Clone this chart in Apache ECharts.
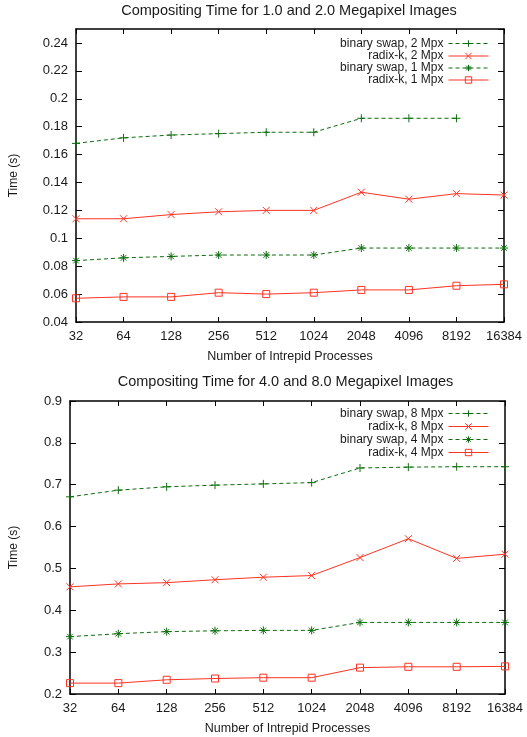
<!DOCTYPE html>
<html>
<head>
<meta charset="utf-8">
<script src="https://cdn.jsdelivr.net/npm/echarts@6/dist/echarts.min.js"></script>
<style>
html,body{margin:0;padding:0;background:#fff;}
#c{width:527px;height:737px;}
</style>
</head>
<body>
<div id="c"></div>
<script>
// ---- data ----
const processes = ['32','64','128','256','512','1024','2048','4096','8192','16384'];

const titleTop = 'Compositing Time for 1.0 and 2.0 Megapixel Images';
const titleBottom = 'Compositing Time for 4.0 and 8.0 Megapixel Images';
const xName = 'Number of Intrepid Processes';
const yName = 'Time (s)';

// top chart
const binarySwap2 = [0.168, 0.172, 0.174, 0.175, 0.176, 0.176, 0.186, 0.186, 0.186, null];
const radixK2     = [0.114, 0.114, 0.117, 0.119, 0.120, 0.120, 0.133, 0.128, 0.132, 0.131];
const binarySwap1 = [0.084, 0.086, 0.087, 0.088, 0.088, 0.088, 0.093, 0.093, 0.093, 0.093];
const radixK1     = [0.057, 0.058, 0.058, 0.061, 0.060, 0.061, 0.063, 0.063, 0.066, 0.067];

// bottom chart
const binarySwap8 = [0.671, 0.687, 0.695, 0.699, 0.702, 0.705, 0.740, 0.742, 0.743, 0.743];
const radixK8     = [0.456, 0.463, 0.466, 0.473, 0.479, 0.483, 0.526, 0.571, 0.524, 0.534];
const binarySwap4 = [0.337, 0.344, 0.349, 0.351, 0.352, 0.352, 0.371, 0.371, 0.371, 0.371];
const radixK4     = [0.226, 0.226, 0.234, 0.237, 0.239, 0.239, 0.263, 0.265, 0.265, 0.266];

const topNames = ['binary swap, 2 Mpx', 'radix-k, 2 Mpx', 'binary swap, 1 Mpx', 'radix-k, 1 Mpx'];
const bottomNames = ['binary swap, 8 Mpx', 'radix-k, 8 Mpx', 'binary swap, 4 Mpx', 'radix-k, 4 Mpx'];

// ---- styling ----
const GREEN = '#0d6d0d';
const RED = '#ff3322';
const FONT = 'Liberation Sans';
const TXT = '#1a1a1a';
const SYM = {
  plus: 'path://M0,5L10,5M5,0L5,10',
  cross: 'path://M0,0L10,10M0,10L10,0',
  star: 'path://M0,5L10,5M5,0L5,10M1.5,1.5L8.5,8.5M1.5,8.5L8.5,1.5',
  square: 'rect'
};
const STYLES = [
  { color: GREEN, dashed: true, symbol: SYM.plus, size: 8 },
  { color: RED, dashed: false, symbol: SYM.cross, size: 7 },
  { color: GREEN, dashed: true, symbol: SYM.star, size: 8 },
  { color: RED, dashed: false, symbol: SYM.square, size: 7 }
];

function mkSeries(name, data, idx, st) {
  return {
    type: 'line', name: name, data: data,
    xAxisIndex: idx, yAxisIndex: idx,
    symbol: st.symbol, symbolSize: st.size,
    showAllSymbol: true,
    connectNulls: false,
    animation: false,
    silent: true,
    lineStyle: { color: st.color, width: 1, type: st.dashed ? [4, 3] : 'solid' },
    itemStyle: { color: 'rgba(255,255,255,0)', borderColor: st.color, borderWidth: 1 },
    emphasis: { disabled: true }
  };
}

const grids = [
  { left: 73, right: 23, top: 29, bottom: 415 },
  { left: 66, right: 22, top: 401, bottom: 43 }
];

const AXW = 1.5;

function xAxes(gi, nameGap) {
  return [
    {
      type: 'category', gridIndex: gi, data: processes, boundaryGap: false, position: 'bottom',
      axisLine: { lineStyle: { color: '#000', width: AXW } },
      axisTick: { inside: true, length: 5, alignWithLabel: true, lineStyle: { color: '#000' } },
      axisLabel: { color: TXT, fontFamily: FONT, fontSize: 13, margin: 8 },
      name: xName, nameLocation: 'middle', nameGap: nameGap,
      nameTextStyle: { color: TXT, fontFamily: FONT, fontSize: 12.5 },
      splitLine: { show: false }
    },
    {
      type: 'category', gridIndex: gi, data: processes, boundaryGap: false, position: 'top',
      axisLine: { lineStyle: { color: '#000', width: AXW } },
      axisTick: { inside: true, length: 5, alignWithLabel: true, lineStyle: { color: '#000' } },
      axisLabel: { show: false },
      splitLine: { show: false }
    }
  ];
}

function yAxes(gi, min, max, interval, nameGap) {
  return [
    {
      type: 'value', gridIndex: gi, min: min, max: max, interval: interval, position: 'left',
      axisLine: { show: true, lineStyle: { color: '#000', width: AXW } },
      axisTick: { show: true, inside: true, length: 6, lineStyle: { color: '#000' } },
      axisLabel: { color: TXT, fontFamily: FONT, fontSize: 13, margin: 8,
        showMaxLabel: Math.abs(max / interval - Math.round(max / interval)) < 1e-9,
        formatter: function (v) { return String(Math.round(v * 1000) / 1000); } },
      name: yName, nameLocation: 'middle', nameGap: nameGap,
      nameTextStyle: { color: TXT, fontFamily: FONT, fontSize: 12 },
      splitLine: { show: false }
    },
    {
      type: 'value', gridIndex: gi, min: min, max: max, interval: interval, position: 'right',
      axisLine: { show: true, lineStyle: { color: '#000', width: AXW } },
      axisTick: { show: true, inside: true, length: 6, lineStyle: { color: '#000' } },
      axisLabel: { show: false },
      splitLine: { show: false }
    }
  ];
}

function mkLegend(name, top, right, st) {
  return {
    data: [name], top: top, right: right, orient: 'vertical', align: 'right',
    itemWidth: 40, itemHeight: 8, padding: 0, selectedMode: false,
    inactiveColor: TXT,
    inactiveBorderColor: st.color,
    inactiveBorderWidth: 1,
    lineStyle: { color: st.color, width: 1, type: st.dashed ? [4, 3] : 'solid',
      inactiveColor: st.color, inactiveWidth: 1 },
    itemStyle: { color: 'rgba(255,255,255,0)', borderColor: st.color, borderWidth: 1 },
    textStyle: { color: TXT, fontFamily: FONT, fontSize: 12 }
  };
}

const xa = xAxes(0, 28).concat(xAxes(1, 28));
const ya = yAxes(0, 0.04, 0.25, 0.02, 56).concat(yAxes(1, 0.2, 0.9, 0.1, 50));

const topData = [binarySwap2, radixK2, binarySwap1, radixK1];
const bottomData = [binarySwap8, radixK8, binarySwap4, radixK4];
const series = [];
topNames.forEach(function (n, i) { series.push(mkSeries(n, topData[i], 0, STYLES[i])); });
bottomNames.forEach(function (n, i) { series.push(mkSeries(n, bottomData[i], 2, STYLES[i])); });

const topLegendY = [37.5, 50, 62, 74];
const botLegendY = [407.5, 420.5, 433.5, 446.5];
const legends = [];
topNames.forEach(function (n, i) { legends.push(mkLegend(n, topLegendY[i], 38, STYLES[i])); });
bottomNames.forEach(function (n, i) { legends.push(mkLegend(n, botLegendY[i], 38, STYLES[i])); });

const chart = echarts.init(document.getElementById('c'), null, { renderer: 'canvas' });
chart.setOption({
  animation: false,
  backgroundColor: '#fff',
  title: [
    { text: titleTop, left: 289, top: 3, textAlign: 'center', padding: 0,
      textStyle: { color: TXT, fontFamily: FONT, fontSize: 14.5, fontWeight: 'normal' } },
    { text: titleBottom, left: 285.5, top: 374, textAlign: 'center', padding: 0,
      textStyle: { color: TXT, fontFamily: FONT, fontSize: 14.5, fontWeight: 'normal' } }
  ],
  legend: legends,
  grid: grids,
  xAxis: xa,
  yAxis: ya,
  series: series
});
</script>
</body>
</html>
